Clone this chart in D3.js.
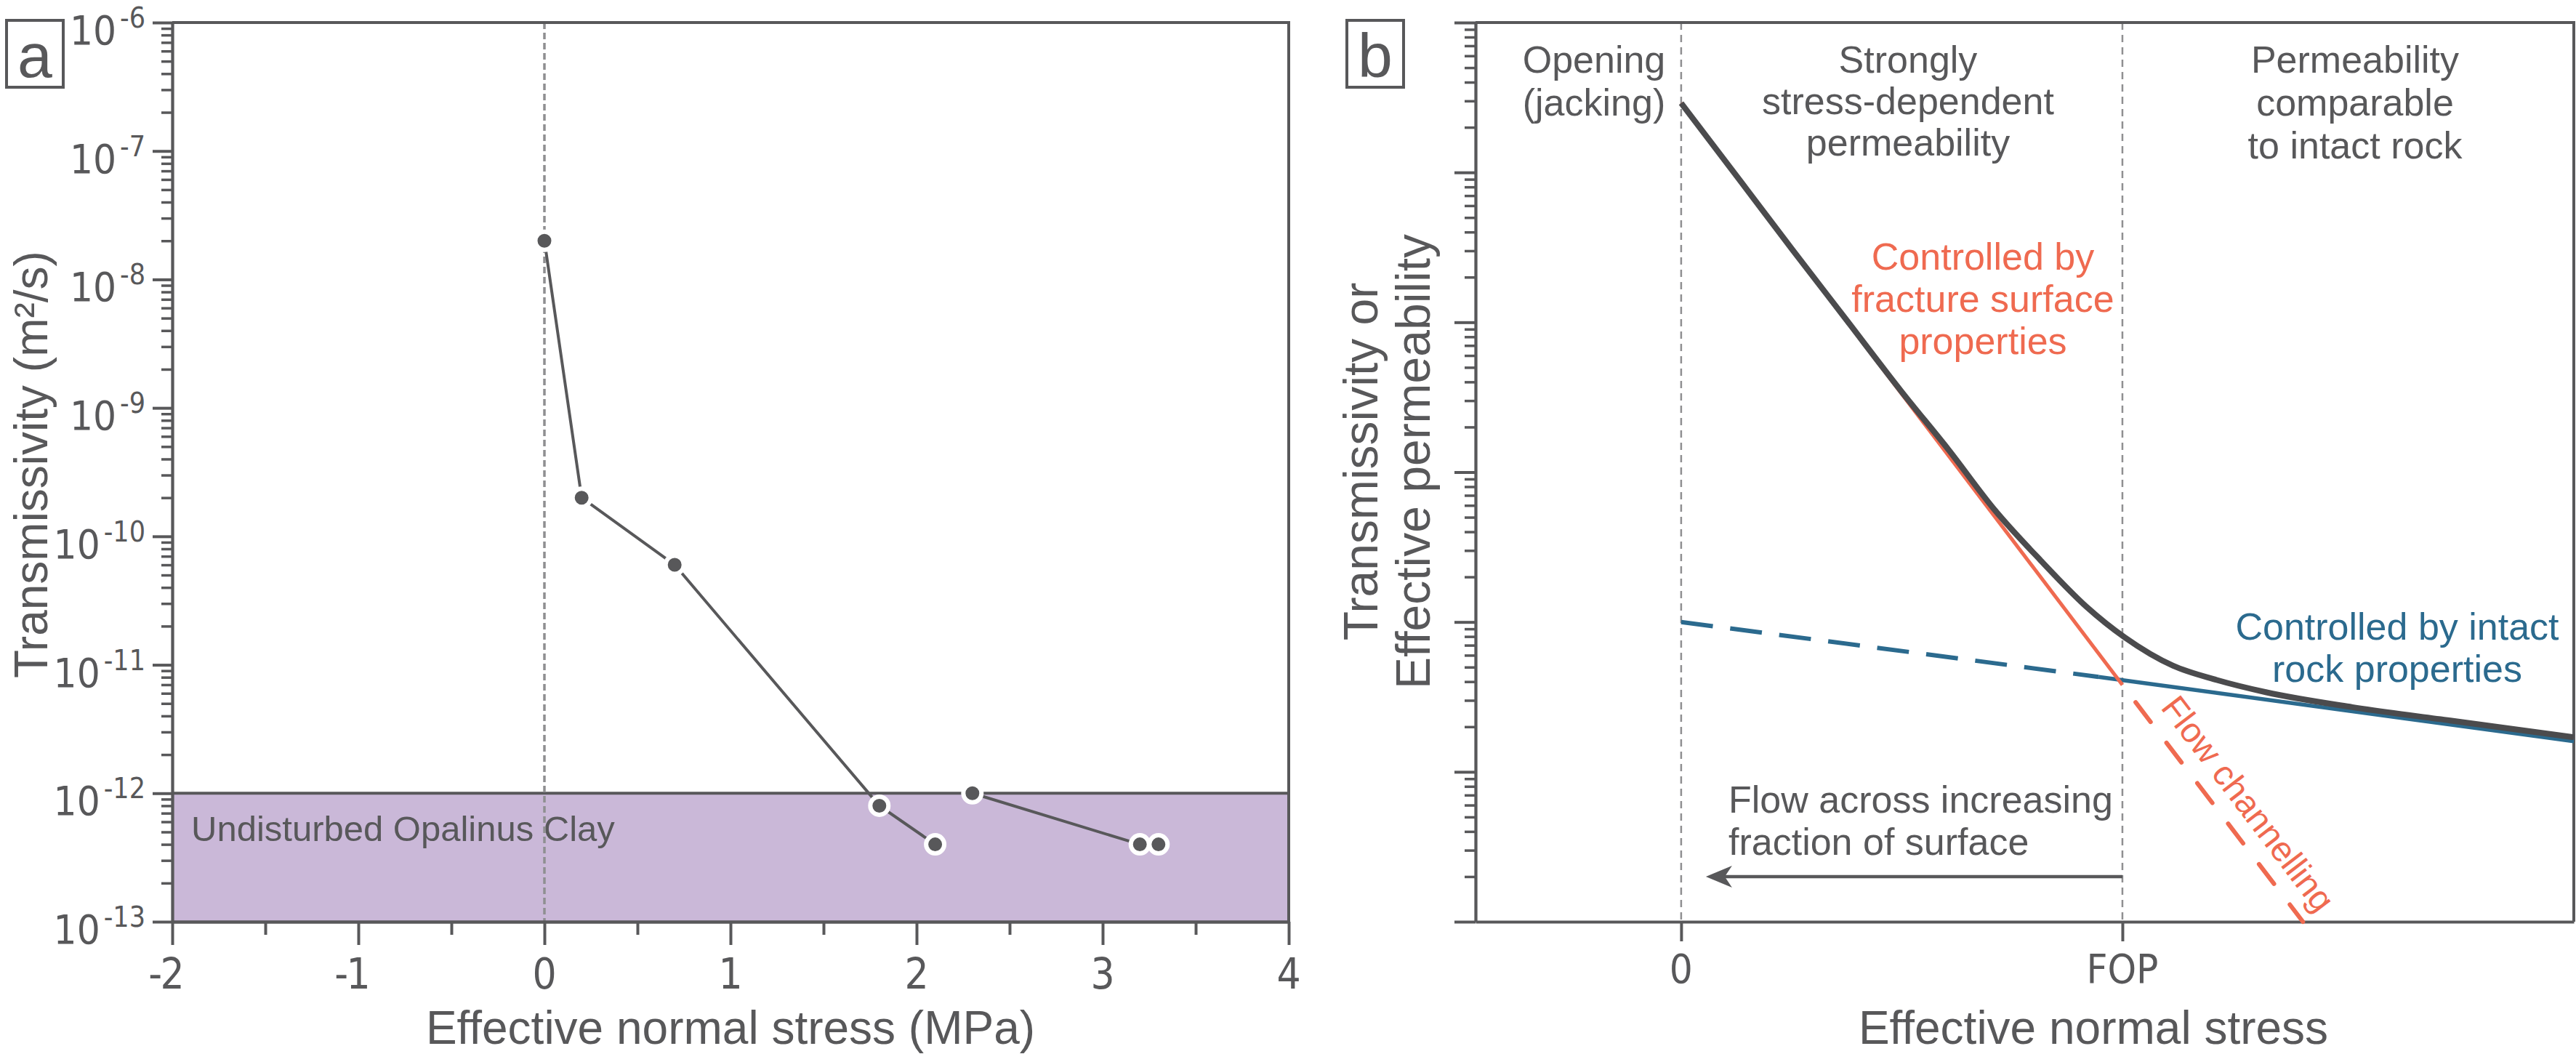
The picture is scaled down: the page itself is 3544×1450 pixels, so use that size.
<!DOCTYPE html>
<html>
<head>
<meta charset="utf-8">
<script src="https://cdn.jsdelivr.net/npm/d3@7"></script>
<style>
  body { margin: 0; background: #fff; }
  svg { display: block; }
</style>
</head>
<body>
<div id="chart"></div>
<script>
// ---- panel a: measured transmissivity vs effective normal stress ----
const stressA1 = [0, 0.2, 0.7, 1.8, 2.1]
const transA1 = [2e-8, 2e-10, 6e-11, 8e-13, 4e-13]
const stressA2 = [2.3, 3.2, 3.3]
const transA2 = [1e-12, 4e-13, 4e-13]
const clayRange = [1e-13, 1e-12] // undisturbed Opalinus Clay
const xTicksA = [-2, -1, 0, 1, 2, 3, 4]
const yExpA = [-13, -12, -11, -10, -9, -8, -7, -6]

// ---- panel b: schematic (arbitrary units, FOP = 1) ----
const fracX = [0, 1, 1.409]          // fracture surface control (solid, then channelling)
const fracY = [2.9e5, 38, 1]
const rockX = [0, 0.946, 2.023]      // intact rock control (dashed, then solid)
const rockY = [100, 43, 16]
const totalX = [0, 0.143, 0.254, 0.371, 0.501, 0.606, 0.710, 0.815, 0.919, 1.005, 1.115, 1.214, 1.325, 1.521, 1.743, 2.023]
const totalY = [2.9e5, 8.1e4, 3.0e4, 1.07e4, 3.4e3, 1.41e3, 562, 257, 126, 79, 51, 41, 34, 27, 22, 17]
const xTicksB = [0, 1]
const xTickLabelsB = ['0', 'FOP']
const arrowX = [1, 0.056]
const arrowY = 2

const INK = '#58585a'
const CURVE = '#4b4b4d'
const GRID = '#8f8f91'
const RED = '#ef6a50'
const BLUE = '#2b6a8e'
const PURPLE = '#cab8d8'
const FONT = "'Liberation Sans', Arial, sans-serif"
const NARROW = "'Liberation Sans Narrow', 'DejaVu Sans Condensed', 'Liberation Sans', sans-serif"

const svg = d3.select('#chart').append('svg')
  .attr('width', 3544)
  .attr('height', 1450)
  .style('font-family', FONT)

const styleAxis = (g, w) => {
  g.select('.domain').attr('stroke', INK).attr('stroke-width', w)
  g.selectAll('.tick line').attr('stroke', INK).attr('stroke-width', w)
  g.selectAll('.tick text').remove()
}

function AppendAxis(parent, axis, left, top, w) {
  const g = parent.append('g')
    .attr('transform', 'translate(' + left + ',' + top + ')')
    .call(axis)
  styleAxis(g, w)
  return g
}

const addText = (parent, x, y, str, size, opts = {}) => {
  return parent.append('text')
    .attr('x', x)
    .attr('y', y)
    .attr('font-size', size)
    .attr('fill', opts.fill || INK)
    .attr('text-anchor', opts.anchor || 'middle')
    .attr('font-family', opts.family || FONT)
    .text(str)
}

const panelLabel = (x, y, letter) => {
  svg.append('rect')
    .attr('x', x).attr('y', y).attr('width', 78).attr('height', 92)
    .attr('fill', 'none').attr('stroke', INK).attr('stroke-width', 4)
  addText(svg, x + 39, y + 78, letter, 86)
}

// ================= panel a =================
const xA = d3.scaleLinear().domain([-2, 4]).range([237, 1773])
const yA = d3.scaleLog().domain([1e-13, 1e-6]).range([1268, 31])
const gA = svg.append('g').attr('class', 'panel-a')

// clay band
gA.append('rect')
  .attr('x', xA(-2)).attr('y', yA(clayRange[1]))
  .attr('width', xA(4) - xA(-2)).attr('height', yA(clayRange[0]) - yA(clayRange[1]))
  .attr('fill', PURPLE)
gA.append('line')
  .attr('x1', xA(-2)).attr('x2', xA(4))
  .attr('y1', yA(clayRange[1])).attr('y2', yA(clayRange[1]))
  .attr('stroke', INK).attr('stroke-width', 4)
addText(gA, xA(-2) + 26, yA(clayRange[1]) + 66, 'Undisturbed Opalinus Clay', 49, { anchor: 'start' })

// zero line
gA.append('line')
  .attr('x1', xA(0)).attr('x2', xA(0))
  .attr('y1', yA(1e-6)).attr('y2', yA(1e-13))
  .attr('stroke', GRID).attr('stroke-width', 3.5).attr('stroke-dasharray', '9,5')

// frame
gA.append('path')
  .attr('d', d3.line()([[xA(-2), yA(1e-6)], [xA(4), yA(1e-6)], [xA(4), yA(1e-13)]]))
  .attr('fill', 'none').attr('stroke', INK).attr('stroke-width', 4)

// axes
const majA = yExpA.map(e => Math.pow(10, e))
const minA = yA.ticks().filter(v => !majA.some(m => Math.abs(m - v) / m < 1e-6))
AppendAxis(gA, d3.axisLeft(yA).tickValues(majA).tickSize(27).tickSizeOuter(0), xA(-2), 0, 4)
AppendAxis(gA, d3.axisLeft(yA).tickValues(minA).tickSize(15).tickSizeOuter(0), xA(-2), 0, 3.5)
AppendAxis(gA, d3.axisBottom(xA).tickValues(xTicksA).tickSize(32).tickSizeOuter(0), 0, yA(1e-13), 4)
AppendAxis(gA, d3.axisBottom(xA).tickValues(xTicksA.slice(1).map(v => v - 0.5)).tickSize(18).tickSizeOuter(0), 0, yA(1e-13), 4)

// y tick labels 10^n
yExpA.forEach(e => {
  const t = gA.append('text')
    .attr('x', 200).attr('y', yA(Math.pow(10, e)) + 30)
    .attr('text-anchor', 'end').attr('fill', INK)
    .attr('font-family', NARROW)
  t.append('tspan').attr('font-size', 56).text('10')
  t.append('tspan').attr('font-size', 39).attr('dx', 5).attr('dy', -23).text('-' + Math.abs(e))
})

// x tick labels
xTicksA.forEach(v => {
  addText(gA, xA(v), 1360, String(Math.abs(v)), 58, { family: NARROW })
  if (v < 0) addText(gA, xA(v) - 14, 1360, '-', 58, { family: NARROW, anchor: 'end' })
})

addText(gA, (xA(-2) + xA(4)) / 2, 1436, 'Effective normal stress (MPa)', 64)
addText(gA, 0, 0, 'Transmissivity (m²/s)', 64)
  .attr('transform', 'translate(65,639) rotate(-90)')

// data
const lineA = d3.line().x(d => xA(d[0])).y(d => yA(d[1]))
const seriesA = [d3.zip(stressA1, transA1), d3.zip(stressA2, transA2)]
seriesA.forEach(s => {
  gA.append('path').attr('d', lineA(s))
    .attr('fill', 'none').attr('stroke', INK).attr('stroke-width', 4)
})
seriesA.forEach(s => {
  gA.selectAll(null).data(s).enter().append('circle')
    .attr('cx', d => xA(d[0])).attr('cy', d => yA(d[1]))
    .attr('r', 12.5)
    .attr('fill', INK).attr('stroke', '#fff').attr('stroke-width', 6)
})

panelLabel(9, 28, 'a')

// ================= panel b =================
const xB = d3.scaleLinear().domain([-0.466, 2.023]).range([2030, 3541])
const yB = d3.scaleLog().domain([1, 1e6]).range([1268, 31])
const gB = svg.append('g').attr('class', 'panel-b')

// regime boundaries
xTicksB.forEach(v => {
  gB.append('line')
    .attr('x1', xB(v)).attr('x2', xB(v))
    .attr('y1', yB(1e6)).attr('y2', yB(1))
    .attr('stroke', GRID).attr('stroke-width', 2.5).attr('stroke-dasharray', '10,7')
})

// frame
gB.append('path')
  .attr('d', d3.line()([[xB(-0.466), yB(1e6)], [xB(2.023), yB(1e6)], [xB(2.023), yB(1)]]))
  .attr('fill', 'none').attr('stroke', INK).attr('stroke-width', 4)

const decB = d3.range(0, 7).map(e => Math.pow(10, e))
const minB = yB.ticks().filter(v => !decB.some(m => Math.abs(m - v) / m < 1e-6))
AppendAxis(gB, d3.axisLeft(yB).tickValues(decB).tickSize(29).tickSizeOuter(0), xB(-0.466), 0, 4)
AppendAxis(gB, d3.axisLeft(yB).tickValues(minB).tickSize(15).tickSizeOuter(0), xB(-0.466), 0, 3.5)
AppendAxis(gB, d3.axisBottom(xB).tickValues(xTicksB).tickSize(27).tickSizeOuter(0), 0, yB(1), 4)

xTicksB.forEach((v, i) => addText(gB, xB(v), 1352, xTickLabelsB[i], 56, { family: NARROW }))
addText(gB, 2880, 1436, 'Effective normal stress', 64)

const yTitle = gB.append('text')
  .attr('transform', 'translate(1895,635) rotate(-90)')
  .attr('text-anchor', 'middle').attr('font-size', 66).attr('fill', INK)
yTitle.append('tspan').attr('x', 0).attr('y', 0).text('Transmissivity or')
yTitle.append('tspan').attr('x', 0).attr('y', 72).text('Effective permeability')

// curves
const lineB = d3.line().x(d => xB(d[0])).y(d => yB(d[1]))
const rock = d3.zip(rockX, rockY)
const frac = d3.zip(fracX, fracY)
gB.append('path').attr('d', lineB(rock.slice(0, 2)))
  .attr('fill', 'none').attr('stroke', BLUE).attr('stroke-width', 6).attr('stroke-dasharray', '44,24')
gB.append('path').attr('d', lineB(rock.slice(1)))
  .attr('fill', 'none').attr('stroke', BLUE).attr('stroke-width', 5.5)
gB.append('path').attr('d', lineB(frac.slice(0, 2)))
  .attr('fill', 'none').attr('stroke', RED).attr('stroke-width', 5)
gB.append('path').attr('d', lineB(frac.slice(1)))
  .attr('fill', 'none').attr('stroke', RED).attr('stroke-width', 6)
  .attr('stroke-linecap', 'round').attr('stroke-dasharray', '34,36').attr('stroke-dashoffset', 40)
gB.append('path').attr('d', lineB.curve(d3.curveMonotoneX)(d3.zip(totalX, totalY)))
  .attr('fill', 'none').attr('stroke', CURVE).attr('stroke-width', 8).attr('stroke-linejoin', 'round')
lineB.curve(d3.curveLinear)

// arrow
const ay = yB(arrowY)
const ax0 = xB(arrowX[0]), ax1 = xB(arrowX[1])
gB.append('line').attr('x1', ax0).attr('x2', ax1 + 20).attr('y1', ay).attr('y2', ay)
  .attr('stroke', INK).attr('stroke-width', 4.5)
gB.append('path')
  .attr('d', 'M' + ax1 + ',' + ay + 'L' + (ax1 + 36) + ',' + (ay - 15) + 'L' + (ax1 + 26) + ',' + ay +
    'L' + (ax1 + 36) + ',' + (ay + 15) + 'Z')
  .attr('fill', INK)

// annotations
const block = (lines, x, y0, dy, size, fill, anchor) => {
  lines.forEach((s, i) => addText(gB, x, y0 + i * dy, s, size, { fill, anchor }))
}
block(['Opening', '(jacking)'], 2193, 100, 59, 52)
block(['Strongly', 'stress-dependent', 'permeability'], 2625, 100, 57, 52)
block(['Permeability', 'comparable', 'to intact rock'], 3240, 100, 59, 52)
block(['Controlled by', 'fracture surface', 'properties'], 2728, 371, 58, 52, RED)
block(['Controlled by intact', 'rock properties'], 3298, 880, 58, 52, BLUE)
block(['Flow across increasing', 'fraction of surface'], 2378, ay - 88, 58, 52, INK, 'start')

// "Flow channelling" along the dashed red segment
const p1 = [xB(fracX[1]), yB(fracY[1])]
const p2 = [xB(fracX[2]), yB(fracY[2])]
const th = Math.atan2(p2[1] - p1[1], p2[0] - p1[0])
const ux = Math.cos(th), uy = Math.sin(th)
const nx = Math.sin(th), ny = -Math.cos(th)
const sx = p1[0] + 56 * ux + 22 * nx, sy = p1[1] + 56 * uy + 22 * ny
addText(gB, 0, 0, 'Flow channelling', 48, { fill: RED, anchor: 'start' })
  .attr('transform', 'translate(' + sx + ',' + sy + ') rotate(' + (th * 180 / Math.PI) + ')')

panelLabel(1853, 28, 'b')
</script>
</body>
</html>
